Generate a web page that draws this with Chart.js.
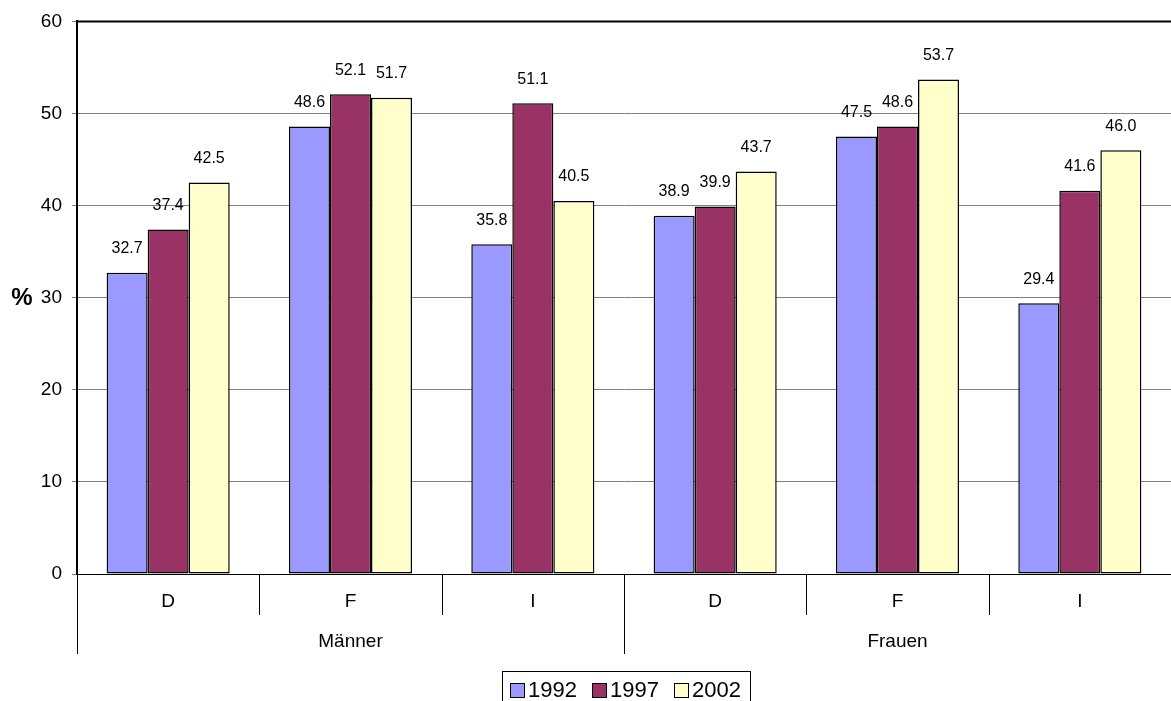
<!DOCTYPE html>
<html><head><meta charset="utf-8">
<script src="https://cdn.jsdelivr.net/npm/chart.js@4/dist/chart.umd.min.js"></script>
<style>html,body{margin:0;padding:0;background:#fff}#wrap{width:1171px;height:701px;position:relative}</style>
</head><body><div id="wrap"><canvas id="c" width="1171" height="701"></canvas></div>
<script>
const countries = ['D','F','I','D','F','I'];
const groups = ['Männer','Frauen'];
const years = ['1992','1997','2002'];
const v1992 = [32.7, 48.6, 35.8, 38.9, 47.5, 29.4];
const v1997 = [37.4, 52.1, 51.1, 39.9, 48.6, 41.6];
const v2002 = [42.5, 51.7, 40.5, 43.7, 53.7, 46.0];
const yTicks = [0,10,20,30,40,50,60];
const colors = ['#9999FF','#993366','#FFFFCC'];
const FONT = '"Liberation Sans", Arial, sans-serif';

const extras = {
  id: 'extras',
  afterDatasetsDraw(chart) {
    const ctx = chart.ctx;
    ctx.save();
    ctx.fillStyle = '#000';
    ctx.font = '16px ' + FONT;
    ctx.textAlign = 'center';
    ctx.textBaseline = 'middle';
    chart.data.datasets.forEach((ds, di) => {
      const meta = chart.getDatasetMeta(di);
      meta.data.forEach((bar, i) => {
        ctx.fillText(ds.data[i].toFixed(1), bar.x, bar.y - 24);
      });
    });
    ctx.restore();
  },
  afterDraw(chart) {
    const ctx = chart.ctx;
    const ca = chart.chartArea;
    const x = chart.scales.x;
    ctx.save();
    ctx.strokeStyle = '#000';
    ctx.lineWidth = 2;
    ctx.beginPath(); ctx.moveTo(ca.left, ca.top); ctx.lineTo(ca.right, ca.top); ctx.stroke();
    ctx.fillStyle = '#000';
    ctx.font = 'bold 24px ' + FONT;
    ctx.textAlign = 'center'; ctx.textBaseline = 'middle';
    ctx.fillText('%', 22, 298);
    const n = countries.length;
    const step = (ca.right - ca.left) / n;
    ctx.font = '19px ' + FONT;
    countries.forEach((c, i) => {
      ctx.fillText(c, x.getPixelForValue(i), ca.bottom + 28);
    });
    const per = n / groups.length;
    groups.forEach((g, gi) => {
      const cx = (x.getPixelForValue(gi*per) + x.getPixelForValue(gi*per + per - 1)) / 2;
      ctx.fillText(g, cx, ca.bottom + 68);
    });
    ctx.strokeStyle = '#000';
    ctx.lineWidth = 1;
    for (let i = 0; i < n; i++) {
      const px = Math.round(x.getPixelForValue(i) - step/2) + 0.5;
      const long = (i % per === 0);
      ctx.beginPath();
      ctx.moveTo(px, ca.bottom);
      ctx.lineTo(px, ca.bottom + (long ? 80 : 41));
      ctx.stroke();
    }
    const lx = 502, ly = 671, lw = 248, lh = 40;
    ctx.strokeStyle = '#000';
    ctx.strokeRect(lx + 0.5, ly + 0.5, lw, lh);
    ctx.font = '22px ' + FONT;
    ctx.textAlign = 'left';
    const itemX = [510, 592, 674];
    chart.data.datasets.forEach((ds, di) => {
      const sx = itemX[di];
      ctx.fillStyle = ds.backgroundColor;
      ctx.fillRect(sx + 0.5, 683.5, 14, 14);
      ctx.strokeStyle = '#000';
      ctx.strokeRect(sx + 0.5, 683.5, 14, 14);
      ctx.fillStyle = '#000';
      ctx.fillText(ds.label, sx + 18, 691);
    });
    ctx.restore();
  }
};

new Chart(document.getElementById('c'), {
  type: 'bar',
  data: {
    labels: countries,
    datasets: years.map((y, i) => ({
      label: y,
      data: [v1992, v1997, v2002][i],
      backgroundColor: colors[i],
      borderColor: '#000',
      borderWidth: 1.5,
      borderSkipped: false,
      categoryPercentage: 0.675,
      barPercentage: 1.0
    }))
  },
  options: {
    responsive: false,
    animation: false,
    layout: { padding: { top: 20, right: 0, bottom: 127, left: 0 } },
    plugins: { legend: { display: false }, tooltip: { enabled: false } },
    scales: {
      x: {
        grid: { display: false, drawTicks: false },
        ticks: { display: false },
        border: { display: true, color: '#000', width: 1 },
        afterFit(s) { s.height = 0; }
      },
      y: {
        min: 0, max: 60,
        afterBuildTicks(s) { s.ticks = yTicks.map(v => ({ value: v })); },
        ticks: { color: '#000', font: { family: FONT, size: 19 }, padding: 10 },
        grid: { color: '#808080', tickLength: 5, lineWidth: 1 },
        border: { display: true, color: '#000', width: 2 },
        afterFit(s) { s.width = 77; }
      }
    }
  },
  plugins: [extras]
});
</script></body></html>
